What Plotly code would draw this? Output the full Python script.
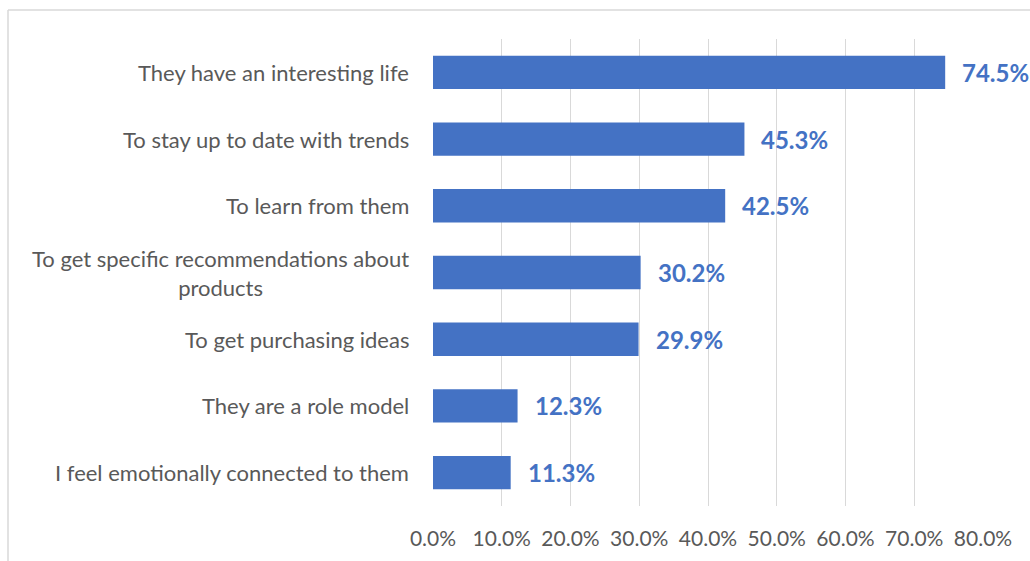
import plotly.graph_objects as go

categories = [
    "They have an interesting life",
    "To stay up to date with trends",
    "To learn from them",
    "To get specific recommendations about<br>products",
    "To get purchasing ideas",
    "They are a role model",
    "I feel emotionally connected to them",
]
values = [74.5, 45.3, 42.5, 30.2, 29.9, 12.3, 11.3]
tick_values = [0, 10, 20, 30, 40, 50, 60, 70, 80]
tick_labels = ["0.0%", "10.0%", "20.0%", "30.0%", "40.0%", "50.0%", "60.0%", "70.0%", "80.0%"]

BAR = "#4472C4"
GREY_TEXT = "#595959"
GRID = "#D9D9D9"
FONT = "Lato"

W, H = 1030, 561
L, R, T, B = 433, 47, 39, 55

fig = go.Figure()
fig.add_trace(go.Bar(
    x=values,
    y=categories,
    orientation="h",
    marker=dict(color=BAR, line=dict(width=0)),
    width=0.5,
    hoverinfo="skip",
))

annotations = []
# value labels to the right of each bar
for cat, v in zip(categories, values):
    annotations.append(dict(
        x=v, y=cat, xref="x", yref="y",
        text=f"<b>{v:.1f}%</b>", showarrow=False,
        xanchor="left", yanchor="middle", xshift=15,
        font=dict(family=FONT, size=24, color=BAR),
    ))
# category labels, centred per line like wrapped text
for cat in categories:
    annotations.append(dict(
        x=0, y=cat, xref="x", yref="y",
        text=cat, showarrow=False, align="center",
        xanchor="right", yanchor="middle", xshift=-22,
        font=dict(family=FONT, size=22, color=GREY_TEXT),
    ))

pw = W - L - R
ph = H - T - B
frame_x = (8 - L) / pw
frame_y = (H - B - 10) / ph

fig.update_layout(
    width=W, height=H, autosize=False,
    margin=dict(l=L, r=R, t=T, b=B, pad=0),
    paper_bgcolor="white", plot_bgcolor="white",
    showlegend=False,
    bargap=0.5,
    annotations=annotations,
    xaxis=dict(
        range=[0, 80], tickvals=tick_values, ticktext=tick_labels,
        showgrid=True, gridcolor=GRID, gridwidth=1,
        zeroline=False, showline=False, ticks="",
        tickfont=dict(family=FONT, size=21, color=GREY_TEXT),
        ticklabelstandoff=18, fixedrange=True,
    ),
    yaxis=dict(
        categoryorder="array", categoryarray=categories[::-1],
        showticklabels=False, showgrid=False, zeroline=False,
        showline=False, ticks="", fixedrange=True,
    ),
    shapes=[
        dict(type="line", xref="paper", yref="paper",
             x0=frame_x, x1=frame_x, y0=frame_y, y1=-0.5,
             line=dict(color=GRID, width=1.5)),
        dict(type="line", xref="paper", yref="paper",
             x0=frame_x, x1=1.5, y0=frame_y, y1=frame_y,
             line=dict(color=GRID, width=1.5)),
    ],
)

fig.write_html("out.html", config={"displayModeBar": False})
